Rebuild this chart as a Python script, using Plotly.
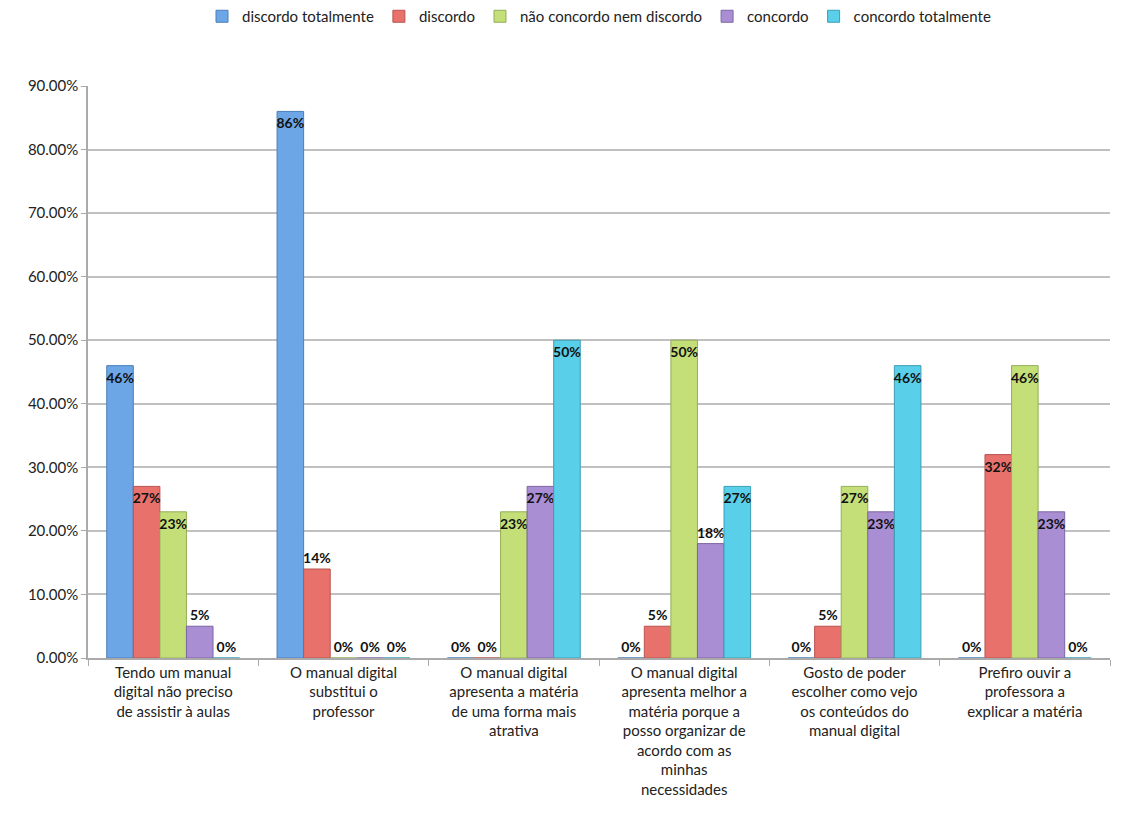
import plotly.graph_objects as go

categories = [
    "Tendo um manual<br>digital não preciso<br>de assistir à aulas",
    "O manual digital<br>substitui o<br>professor",
    "O manual digital<br>apresenta a matéria<br>de uma forma mais<br>atrativa",
    "O manual digital<br>apresenta melhor a<br>matéria porque a<br>posso organizar de<br>acordo com as<br>minhas<br>necessidades",
    "Gosto de poder<br>escolher como vejo<br>os conteúdos do<br>manual digital",
    "Prefiro ouvir a<br>professora a<br>explicar a matéria",
]
series_names = ["discordo totalmente", "discordo", "não concordo nem discordo",
                "concordo", "concordo totalmente"]
discordo_totalmente = [0.46, 0.86, 0.0, 0.0, 0.0, 0.0]
discordo = [0.27, 0.14, 0.0, 0.05, 0.05, 0.32]
nem = [0.23, 0.0, 0.23, 0.50, 0.27, 0.46]
concordo = [0.05, 0.0, 0.27, 0.18, 0.23, 0.23]
concordo_totalmente = [0.0, 0.0, 0.50, 0.27, 0.46, 0.0]
series_values = [discordo_totalmente, discordo, nem, concordo, concordo_totalmente]
colors = ["#6CA6E6", "#E8716B", "#C4DF78", "#A98ED4", "#5ACFEA"]
edge = ["#4A7FB8", "#B85450", "#93AE5A", "#7C66A3", "#3B9EB5"]

fig = go.Figure()
for name, vals, c, e in zip(series_names, series_values, colors, edge):
    pos = ["inside" if v >= 0.2 else "outside" for v in vals]
    fig.add_trace(go.Bar(
        name=name, x=categories, y=vals,
        marker=dict(color=c, line=dict(color=e, width=1)),
        text=[f"{round(v*100)}%" for v in vals],
        textposition=pos, insidetextanchor="end", textangle=0,
        constraintext="none",
        textfont=dict(family="Lato", size=14, color="#111111", weight="bold"),
        outsidetextfont=dict(family="Lato", size=14, color="#111111", weight="bold"),
        cliponaxis=False,
    ))

fig.update_layout(
    width=1126, height=830,
    margin=dict(l=88, r=16, t=86, b=172),
    paper_bgcolor="white", plot_bgcolor="white",
    barmode="group", bargap=0.22, bargroupgap=0,
    uniformtext=dict(minsize=14, mode="show"),
    font=dict(family="Lato", size=15, color="#222222"),
    legend=dict(orientation="h", x=0.5, xanchor="center", y=1.0, yref="container",
                yanchor="top", font=dict(size=15), itemwidth=30,
                traceorder="normal"),
    showlegend=True,
)
fig.update_yaxes(range=[0, 0.9], dtick=0.1, tickformat=".2%",
                 showgrid=True, gridcolor="#C0C0C0", gridwidth=1.5,
                 showline=True, linecolor="#AAAAAA", linewidth=1.5,
                 ticks="outside", ticklen=5, tickcolor="#AAAAAA",
                 tickfont=dict(size=15), zeroline=False)
fig.update_xaxes(showline=True, linecolor="#AAAAAA", linewidth=1.5,
                 ticks="outside", tickson="boundaries", ticklen=6, tickcolor="#AAAAAA",
                 tickfont=dict(size=15), tickangle=0)

fig.write_html("out.html")
